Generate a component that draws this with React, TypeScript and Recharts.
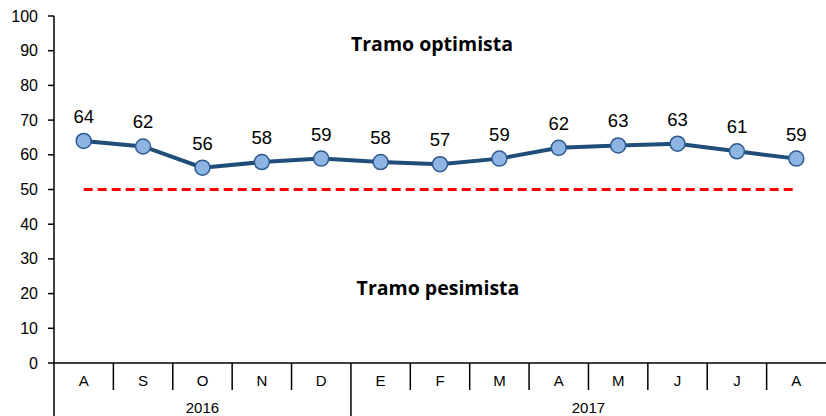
import React from 'react';
import { LineChart, Line, XAxis, YAxis, ReferenceLine, LabelList, Customized } from 'recharts';

const monthKeys = ['A16', 'S16', 'O16', 'N16', 'D16', 'E17', 'F17', 'M17', 'A17', 'M17b', 'J17', 'J17b', 'A17b'];
const monthLabels = ['A', 'S', 'O', 'N', 'D', 'E', 'F', 'M', 'A', 'M', 'J', 'J', 'A'];
const values = [64.0, 62.4, 56.3, 57.9, 58.9, 57.9, 57.3, 58.9, 62.0, 62.7, 63.2, 61.0, 58.9];
const yTicks = [0, 10, 20, 30, 40, 50, 60, 70, 80, 90, 100];
const years = [
  { label: '2016', from: 0, to: 4 },
  { label: '2017', from: 5, to: 12 },
];
const threshold = 50;

const data = monthKeys.map((k, i) => ({ key: k, month: monthLabels[i], value: values[i] }));

const W = 826;
const H = 416;
const LEFT = 54;
const XH = 53;
const AXIS_Y = H - XH;
const BAND = (W - LEFT) / monthKeys.length;
const FONT = 'Liberation Sans, Arial, sans-serif';

const MonthTick = (props: any) => {
  const { x, index } = props;
  const left = x - BAND / 2;
  const yearStart = years.find((yr) => yr.from === index);
  const yearCenter = years.find((yr) => Math.floor((yr.from + yr.to) / 2) === index);
  // centre of the year span, measured from this tick
  const yearX = yearCenter ? left + BAND * ((yearCenter.from + yearCenter.to + 1) / 2 - index) : 0;
  return (
    <g>
      <line x1={left} x2={left} y1={AXIS_Y} y2={yearStart ? H : AXIS_Y + 27} stroke="#000" strokeWidth={1.5} />
      <text x={x} y={AXIS_Y + 23} textAnchor="middle" fontFamily={FONT} fontSize={15} fill="#000">
        {monthLabels[index]}
      </text>
      {yearCenter && (
        <text x={yearX} y={AXIS_Y + 50} textAnchor="middle" fontFamily={FONT} fontSize={15} fill="#000">
          {yearCenter.label}
        </text>
      )}
    </g>
  );
};

const ValueTick = (props: any) => {
  const { x, y, payload } = props;
  return (
    <text x={x} y={y + 5.5} textAnchor="end" fontFamily={FONT} fontSize={16} fill="#000">
      {payload.value}
    </text>
  );
};

const Titles = () => (
  <g>
    <text x={432} y={51} textAnchor="middle" fontFamily="Open Sans, sans-serif" fontWeight={700} fontSize={19.5} fill="#000">
      Tramo optimista
    </text>
    <text x={438} y={295} textAnchor="middle" fontFamily="Open Sans, sans-serif" fontWeight={700} fontSize={19.5} fill="#000">
      Tramo pesimista
    </text>
  </g>
);

export default function App() {
  return (
    <div style={{ position: 'absolute', left: 0, top: 0, background: '#fff' }}>
      <LineChart width={W} height={H} data={data} margin={{ top: 16, right: 0, bottom: 0, left: 0 }}>
        <XAxis
          dataKey="key"
          scale="band"
          height={XH}
          axisLine={{ stroke: '#000', strokeWidth: 1.5 }}
          tickLine={false}
          interval={0}
          tick={<MonthTick />}
        />
        <YAxis
          domain={[0, 100]}
          ticks={yTicks}
          width={LEFT}
          axisLine={{ stroke: '#000', strokeWidth: 1.5 }}
          tickLine={{ stroke: '#000', strokeWidth: 1.5 }}
          tickSize={6}
          tickMargin={10}
          tick={<ValueTick />}
        />
        <ReferenceLine
          segment={[{ x: monthKeys[0], y: threshold }, { x: monthKeys[monthKeys.length - 1], y: threshold }]}
          stroke="#FF0000"
          strokeWidth={3}
          strokeDasharray="9 5"
        />
        <Customized component={Titles} />
        <Line
          type="linear"
          dataKey="value"
          stroke="#1F4E79"
          strokeWidth={4}
          dot={{ r: 7.5, fill: '#8DB4E2', stroke: '#2F5A8F', strokeWidth: 1.5 }}
          isAnimationActive={false}
        >
          <LabelList
            dataKey="value"
            position="top"
            offset={18}
            formatter={(v: any) => Math.round(Number(v))}
            style={{ fontFamily: FONT, fontSize: 18.5, fill: '#000' }}
          />
        </Line>
      </LineChart>
    </div>
  );
}
